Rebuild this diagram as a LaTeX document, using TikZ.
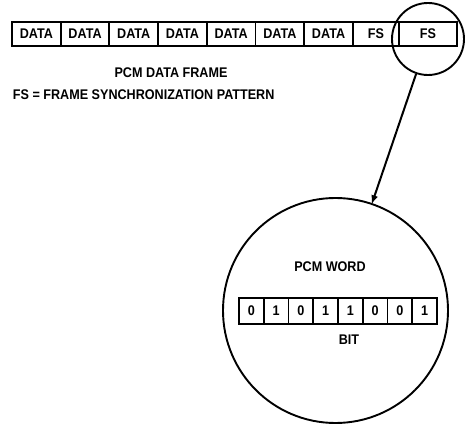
\documentclass[tikz,border=0pt]{standalone}
\usepackage{fontspec}
\newfontfamily\lettering[FakeStretch=0.9]{Liberation Sans}
\usetikzlibrary{positioning}

\begin{document}
\begin{tikzpicture}[x=1pt,y=-1pt,line width=1.9pt,
  font=\lettering\bfseries\fontsize{14}{16}\selectfont]
\par
\tikzstyle{cell}=[draw,outer sep=0pt,minimum height=24pt,inner sep=0pt]
\tikzstyle{datacell}=[cell,minimum width=48.7pt]
\tikzstyle{bitcell}=[draw,outer sep=0pt,minimum height=26pt,minimum width=24.75pt,inner sep=0pt]
\tikzstyle{zoomto}=[->,>=latex,line width=2pt,shorten >=-1pt]
\useasboundingbox (0,0) rectangle (465,427);
\par
% the PCM data frame
\node[datacell] (d1) at (36.35,34) {DATA};
\node[datacell,right=0pt of d1] (d2) {DATA};
\node[datacell,right=0pt of d2] (d3) {DATA};
\node[datacell,right=0pt of d3] (d4) {DATA};
\node[datacell,right=0pt of d4] (d5) {DATA};
\node[datacell,right=0pt of d5] (d6) {DATA};
\node[datacell,right=0pt of d6] (d7) {DATA};
\node[cell,minimum width=46pt,right=0pt of d7] (fs1) {FS};
\node[cell,minimum width=58pt,right=0pt of fs1] (fs2) {FS};
\node (frame) at (171,73) {PCM DATA FRAME};
\node (legend) at (12,95) [right,inner sep=0pt] {FS = FRAME SYNCHRONIZATION PATTERN};
\par
% magnified word
\node[draw,circle,minimum size=72pt,inner sep=0pt] (lens) at (428,39) {};
\node[draw,circle,minimum size=225pt,inner sep=0pt] (zoomc) at (335.5,310.5) {};
\draw[zoomto] (lens) -- (zoomc);
\par
\node (word) at (330,267) {PCM WORD};
\node[bitcell] (b1) at (251.4,311) {0};
\node[bitcell,right=0pt of b1] (b2) {1};
\node[bitcell,right=0pt of b2] (b3) {0};
\node[bitcell,right=0pt of b3] (b4) {1};
\node[bitcell,right=0pt of b4] (b5) {1};
\node[bitcell,right=0pt of b5] (b6) {0};
\node[bitcell,right=0pt of b6] (b7) {0};
\node[bitcell,right=0pt of b7] (b8) {1};
\node (bit) at (349,340) {BIT};
\par
\end{tikzpicture}
\end{document}
